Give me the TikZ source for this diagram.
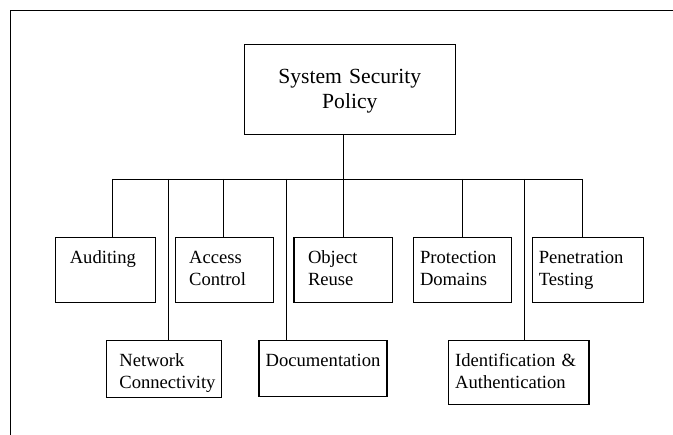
\documentclass[tikz,border=0pt]{standalone}
\usepackage{fontspec}
\setmainfont{Liberation Serif}
\begin{document}
\begin{tikzpicture}[x=1pt,y=-1pt,
  frame/.style={line width=1pt},
  link/.style={line width=0.9pt},
  topbox/.style={draw, line width=1.1pt, rectangle, outer sep=0pt, anchor=north west,
    align=center, inner sep=0pt, font=\fontsize{21.6pt}{24.4pt}\selectfont},
  cell/.style={draw, line width=1.1pt, rectangle, outer sep=0pt, anchor=north west,
    align=left, inner ysep=0pt, font=\fontsize{18.6pt}{22.3pt}\selectfont},
  row1/.style={cell, text height=26pt, text depth=39pt},
  row2/.style={cell, text height=25.5pt}
]
\useasboundingbox (0,0) rectangle (673,435);
\draw[frame] (673,10.7) -- (10.7,10.7) -- (10.7,435);

% top box
\node[topbox, minimum width=211pt, text width=211pt, text height=39.7pt, text depth=50.7pt]
  (ssp) at (244.3,44.3) {System Security\\Policy};

% row 1
\node[row1, minimum width=99.6pt, text width=71.6pt, inner xsep=14pt] (aud) at (55.8,237.3) {Auditing};
\node[row1, minimum width=98.7pt, text width=70.7pt, inner xsep=14pt] (acc) at (175.1,237.3) {Access\\Control};
\node[row1, minimum width=98.7pt, text width=70.7pt, inner xsep=14pt] (obj) at (294,237.3) {Object\\Reuse};
\node[row1, minimum width=98.3pt, text width=84.9pt, inner xsep=6.7pt] (pro) at (413.3,237.3) {Protection\\Domains};
\node[row1, minimum width=111.6pt, text width=98.4pt, inner xsep=6.6pt] (pen) at (532.2,237.3) {Penetration\\Testing};

% row 2
\node[row2, minimum width=115.1pt, text width=89.1pt, inner xsep=13pt, text depth=31.1pt] (net) at (106.4,340.7) {Network\\Connectivity};
\node[row2, minimum width=128pt, text width=114.6pt, inner xsep=6.7pt, text depth=30.5pt] (doc) at (259,340.7) {Documentation};
\node[row2, minimum width=140.6pt, text width=127pt, inner xsep=6.8pt, text depth=38pt] (ide) at (448.4,340.7) {Identification \&\\Authentication};

% bus coordinates
\coordinate (d1) at (112,179);
\coordinate (d2) at (168,179);
\coordinate (d3) at (223.7,179);
\coordinate (d4) at (286.7,179);
\coordinate (hub) at (343,179);
\coordinate (d6) at (462,179);
\coordinate (d7) at (524.5,179);
\coordinate (d8) at (582,179);

\draw[link] (ssp.south -| hub) -- (hub);
\draw[link] (d1) -- (d8);
\draw[link] (d1) -- (aud.north -| d1);
\draw[link] (d2) -- (net.north -| d2);
\draw[link] (d3) -- (acc.north -| d3);
\draw[link] (d4) -- (doc.north -| d4);
\draw[link] (hub) -- (obj.north -| hub);
\draw[link] (d6) -- (pro.north -| d6);
\draw[link] (d7) -- (ide.north -| d7);
\draw[link] (d8) -- (pen.north -| d8);
\end{tikzpicture}
\end{document}
